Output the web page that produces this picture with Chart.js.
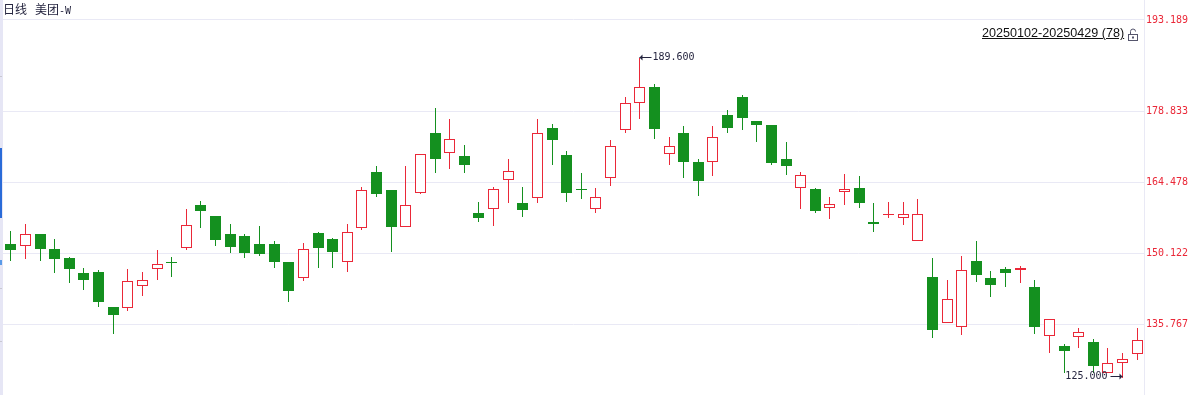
<!DOCTYPE html>
<html>
<head>
<meta charset="utf-8">
<title>美团-W 日线</title>
<script src="https://cdn.jsdelivr.net/npm/chart.js@4"></script>
<style>
    html, body { margin: 0; padding: 0; background: #fff; }
    #wrap { position: relative; width: 1197px; height: 395px; overflow: hidden; }
    #strip { position: absolute; left: 0; top: 0; width: 3px; height: 395px; background: #e6e6f5; }
    .mark { position: absolute; left: 0; width: 2px; }
    #header { position: absolute; left: 3px; top: 1px; font: 12px/16px "Noto Sans CJK SC", sans-serif; color: #25253f; white-space: pre; }
    #header span { font: 10px/16px "DejaVu Sans Mono", monospace; }
    #range { position: absolute; left: 982px; top: 25px; font: 12.6px/16px "Liberation Sans", sans-serif; color: #111; text-decoration: underline; }
    #lock { position: absolute; left: 1127px; top: 28px; }
</style>
</head>
<body>
<div id="wrap">
    <canvas id="graph_kline" width="1197" height="395"></canvas>
    <div id="strip">
        <div class="mark" style="top:76px;height:1px;background:#c9c9d2"></div>
        <div class="mark" style="top:148px;height:70px;background:#2a6bd8"></div>
        <div class="mark" style="top:260px;height:5px;background:#5a9be8"></div>
        <div class="mark" style="top:288px;height:1px;background:#c9c9d2"></div>
        <div class="mark" style="top:341px;height:1px;background:#c9c9d2"></div>
    </div>
    <div id="header">日线   美团<span>-W</span></div>
    <div id="range">20250102-20250429 (78)</div>
    <svg id="lock" width="12" height="13" viewBox="0 0 12 13">
        <path d="M3.5 6V3.5a2.5 2.5 0 0 1 5 0" fill="none" stroke="#55556c" stroke-width="1"/>
        <rect x="1.5" y="6.5" width="9" height="6" fill="none" stroke="#55556c" stroke-width="1"/>
        <rect x="5" y="8.5" width="2" height="2" fill="#55556c"/>
    </svg>
</div>
<script>
const open_prices = [
    152.04, 151.64, 154.06, 151.03, 149.21, 146.18, 146.38, 139.30, 139.10, 143.55,
    146.99, 148.40, 151.23, 159.93, 157.70, 154.06, 153.66, 152.04, 152.04, 148.40,
    145.17, 154.27, 153.05, 148.40, 155.28, 166.60, 162.96, 155.48, 162.35, 174.49,
    170.44, 169.84, 158.31, 159.12, 164.98, 160.33, 161.34, 175.50, 170.04, 163.16,
    159.12, 165.39, 175.09, 180.55, 183.79, 170.24, 174.49, 168.62, 168.62, 178.13,
    181.76, 176.91, 176.10, 169.23, 163.36, 163.16, 159.32, 162.56, 163.36, 156.49,
    157.90, 157.30, 152.65, 145.37, 136.07, 135.26, 148.60, 145.17, 146.99, 146.79,
    143.35, 133.44, 131.42, 133.24, 132.22, 125.96, 127.98, 129.80
];
const high_prices = [
    154.67, 156.09, 154.06, 153.05, 149.41, 147.19, 146.79, 139.30, 146.99, 146.38,
    150.83, 149.41, 159.12, 160.74, 157.70, 156.09, 154.06, 155.68, 152.65, 148.40,
    152.24, 154.47, 153.25, 156.09, 163.57, 167.81, 162.96, 167.81, 170.24, 179.54,
    177.32, 172.06, 160.53, 163.57, 169.23, 163.57, 177.32, 176.30, 170.85, 166.40,
    163.36, 173.07, 181.76, 189.60, 184.39, 173.68, 175.90, 169.23, 175.90, 179.14,
    182.17, 176.91, 176.10, 172.66, 166.60, 163.36, 161.54, 166.20, 165.79, 160.33,
    160.53, 160.53, 161.14, 149.21, 144.76, 149.61, 152.65, 146.58, 147.39, 147.59,
    144.76, 136.88, 131.82, 135.06, 132.83, 131.01, 130.00, 135.06
];
const low_prices = [
    148.60, 149.01, 148.60, 146.18, 144.15, 142.74, 139.30, 133.84, 138.49, 141.53,
    144.76, 145.37, 150.83, 155.28, 151.64, 150.22, 149.21, 149.61, 147.19, 140.31,
    144.56, 147.19, 147.19, 146.38, 154.87, 161.54, 150.42, 155.48, 162.15, 166.40,
    167.21, 166.40, 156.49, 155.68, 160.33, 157.50, 160.33, 168.01, 160.53, 161.14,
    158.31, 163.77, 174.49, 177.32, 173.27, 168.01, 165.39, 161.75, 165.79, 174.49,
    175.09, 172.66, 168.01, 165.99, 159.12, 158.31, 157.10, 159.93, 159.32, 154.47,
    157.30, 155.88, 152.65, 133.03, 136.07, 133.64, 144.36, 141.32, 143.35, 144.15,
    133.84, 130.00, 125.96, 131.01, 125.96, 125.96, 125.00, 128.59
];
const close_prices = [
    150.83, 154.06, 151.03, 149.01, 146.99, 144.76, 140.31, 137.69, 144.56, 144.76,
    148.00, 148.20, 155.88, 158.71, 152.85, 151.43, 150.22, 150.02, 148.40, 142.54,
    151.03, 151.23, 150.42, 154.47, 162.96, 162.15, 155.48, 159.93, 170.24, 169.23,
    173.27, 168.01, 157.30, 163.16, 166.80, 158.92, 174.49, 173.07, 162.35, 162.96,
    161.54, 171.86, 180.55, 183.79, 175.29, 171.86, 168.62, 164.78, 173.68, 175.50,
    177.52, 176.10, 168.42, 167.81, 165.99, 158.71, 160.13, 163.16, 160.33, 156.09,
    158.11, 158.11, 158.11, 134.65, 140.92, 146.79, 145.77, 143.75, 146.18, 147.19,
    135.26, 136.88, 130.41, 134.25, 127.37, 127.98, 128.79, 132.63
];
const tick_values = [135.767, 150.122, 164.478, 178.833, 197.334];
const tick_labels = ['135.767', '150.122', '164.478', '178.833', '193.189'];

const color_up = '#ea2838';
const color_down = '#14901f';
const color_grid = '#e9e9f5';
const color_note = '#25253f';
const mono_font = '"DejaVu Sans Mono", monospace';

const labels_days = open_prices.map((item, i) => i + 1);
const is_up = open_prices.map((item, i) => close_prices[i] >= item);

// puts candles on whole pixels so the edges stay sharp
const snapPlugin = {
    id: 'snapCandles',
    afterDatasetsUpdate(chart) {
        chart.data.datasets.forEach((set, d) => {
            chart.getDatasetMeta(d).data.forEach((el) => {
                el.x = Math.round(el.x) + 0.5;
                el.y = Math.round(el.y);
                el.base = Math.round(el.base);
            });
        });
    }
};

// the "<-189.600" and "125.000->" notes at the extremes
const extremePlugin = {
    id: 'extremeNotes',
    afterDatasetsDraw(chart) {
        const { ctx } = chart;
        const top_value = Math.max(...high_prices);
        const bottom_value = Math.min(...low_prices);
        const wicks = chart.getDatasetMeta(1).data;
        const top_x = wicks[high_prices.indexOf(top_value)].x;
        const bottom_x = wicks[low_prices.indexOf(bottom_value)].x;
        const top_y = Math.round(chart.scales.y.getPixelForValue(top_value)) - 0.5;
        const bottom_y = Math.round(chart.scales.y.getPixelForValue(bottom_value)) - 1.5;

        ctx.save();
        ctx.strokeStyle = color_note;
        ctx.fillStyle = color_note;
        ctx.lineWidth = 1;
        ctx.font = '10px ' + mono_font;
        ctx.textBaseline = 'middle';

        ctx.beginPath();
        ctx.moveTo(top_x, top_y);
        ctx.lineTo(top_x + 12, top_y);
        ctx.moveTo(bottom_x - 12, bottom_y);
        ctx.lineTo(bottom_x, bottom_y);
        ctx.stroke();

        ctx.beginPath();
        ctx.moveTo(top_x, top_y);
        ctx.lineTo(top_x + 3, top_y - 3);
        ctx.lineTo(top_x + 3, top_y + 3);
        ctx.moveTo(bottom_x, bottom_y);
        ctx.lineTo(bottom_x - 3, bottom_y - 3);
        ctx.lineTo(bottom_x - 3, bottom_y + 3);
        ctx.fill();

        ctx.textAlign = 'left';
        ctx.fillText(top_value.toFixed(3), top_x + 13, top_y);
        ctx.textAlign = 'right';
        ctx.fillText(bottom_value.toFixed(3), bottom_x - 15, bottom_y);
        ctx.restore();
    }
};

const graph_kline = document.getElementById('graph_kline').getContext('2d');

const kline = new Chart(graph_kline, {
    type: 'bar',
    data: {
        labels: labels_days,
        datasets: [
            {
                label: 'body',
                data: open_prices.map((item, i) => [Math.min(item, close_prices[i]), Math.max(item, close_prices[i])]),
                backgroundColor: is_up.map((up) => up ? '#ffffff' : color_down),
                borderColor: is_up.map((up) => up ? color_up : color_down),
                borderWidth: 1,
                borderSkipped: false,
                inflateAmount: 0,
                barThickness: 11
            },
            {
                label: 'wick',
                data: low_prices.map((item, i) => [item, high_prices[i]]),
                backgroundColor: is_up.map((up) => up ? color_up : color_down),
                borderWidth: 0,
                borderSkipped: false,
                inflateAmount: 0,
                barThickness: 1
            }
        ]
    },
    options: {
        responsive: false,
        animation: false,
        devicePixelRatio: 1,
        grouped: false,
        layout: { padding: { left: 3, right: 0, top: 0, bottom: 0 } },
        plugins: {
            legend: { display: false },
            title: { display: false },
            tooltip: { enabled: false }
        },
        scales: {
            x: {
                display: false,
                offset: true,
                grid: { display: false }
            },
            y: {
                position: 'right',
                min: 121.509,
                max: 201.378,
                afterBuildTicks: (scale) => {
                    scale.ticks = tick_values.map((value) => ({ value }));
                },
                afterFit: (scale) => {
                    scale.width = 53;
                    scale.paddingTop = 0;
                    scale.paddingBottom = 0;
                },
                grid: { color: color_grid, drawTicks: false },
                border: { color: color_grid },
                ticks: {
                    autoSkip: false,
                    padding: 2,
                    color: color_up,
                    font: { family: mono_font, size: 10 },
                    callback: (value, index) => tick_labels[index]
                }
            }
        }
    },
    plugins: [snapPlugin, extremePlugin]
});
</script>
</body>
</html>
